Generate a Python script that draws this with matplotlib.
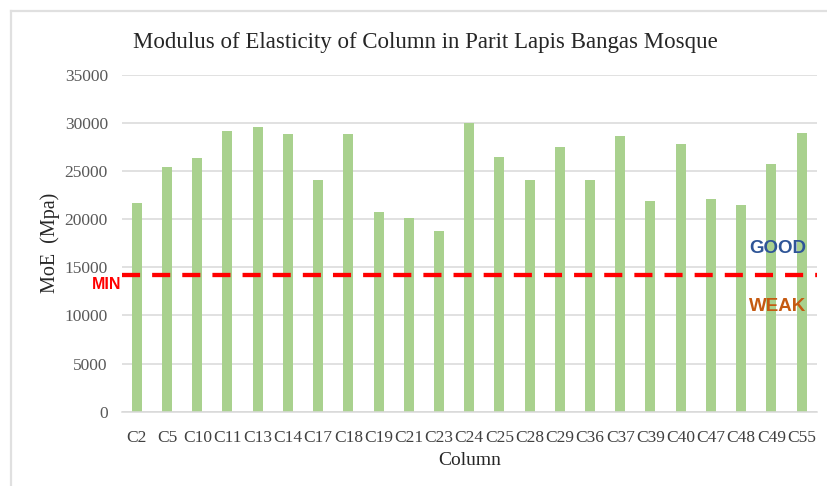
import matplotlib
matplotlib.use("Agg")
import matplotlib.pyplot as plt
from matplotlib.lines import Line2D

columns = ["C2", "C5", "C10", "C11", "C13", "C14", "C17", "C18", "C19", "C21", "C23", "C24",
           "C25", "C28", "C29", "C36", "C37", "C39", "C40", "C47", "C48", "C49", "C55"]
moe = [21700, 25400, 26400, 29200, 29600, 28900, 24100, 28900, 20800, 20100, 18800, 30000,
       26500, 24100, 27500, 24100, 28600, 21900, 27800, 22100, 21500, 25700, 29000]
moe_min = 14200
y_ticks = [0, 5000, 10000, 15000, 20000, 25000, 30000, 35000]

serif = "Liberation Serif"
sans = "Liberation Sans"

fig = plt.figure(figsize=(8.27, 4.86), dpi=100)
ax = fig.add_axes([0.1472, 0.1529, 0.8403, 0.6930])

x = range(len(columns))
ax.bar(x, moe, width=0.33, color="#A9D18E", zorder=2)
ax.axhline(moe_min, color="#FF0000", lw=3.1, dashes=(4.2, 2.8), zorder=3, clip_on=False)

ax.set_xlim(-0.5, len(columns) - 0.5)
ax.set_ylim(0, 35000)
ax.set_yticks(y_ticks)
ax.set_yticklabels([str(v) for v in y_ticks], family=serif, fontsize=12.5, color="#595959")
ax.set_xticks(list(x))
ax.set_xticklabels(columns, family=serif, fontsize=12.5, color="#404040")
ax.tick_params(axis="both", length=0)
ax.tick_params(axis="y", pad=10)
ax.tick_params(axis="x", pad=13.5)
ax.grid(axis="y", color="#D9D9D9", lw=1.1, zorder=0)
for side in ["top", "right", "left"]:
    ax.spines[side].set_visible(False)
ax.spines["bottom"].set_color("#D9D9D9")
ax.spines["bottom"].set_linewidth(1.1)

# title centred on the whole figure
fig.text(0.514, 0.913, "Modulus of Elasticity of Column in Parit Lapis Bangas Mosque",
         family=serif, fontsize=16.5, color="#262626", ha="center", va="center")
ax.set_xlabel("Column", family=serif, fontsize=14, color="#262626", labelpad=4)
ax.set_ylabel("MoE  (Mpa)", family=serif, fontsize=14.5, color="#262626")
ax.yaxis.set_label_coords(-0.089, 0.5)

# zone labels around the minimum line
ax.text(-1.01, 13200, "MIN", family=sans, weight="bold", fontsize=11.5,
        color="#FF0000", ha="center", va="center", clip_on=False)
ax.text(21.2, 17000, "GOOD", family=sans, weight="bold", fontsize=13.5,
        color="#2F5597", ha="center", va="center")
ax.text(21.2, 10900, "WEAK", family=sans, weight="bold", fontsize=13.5,
        color="#C55A11", ha="center", va="center")

# chart frame (left and top edges)
W, H = 827, 486
fig.add_artist(Line2D([11 / W, 11 / W], [0, 1 - 11 / H], color="#E0E0E0", lw=1.6))
fig.add_artist(Line2D([11 / W, 1], [1 - 11 / H, 1 - 11 / H], color="#E0E0E0", lw=1.6))

fig.savefig("out.png", dpi=100, facecolor="white")
